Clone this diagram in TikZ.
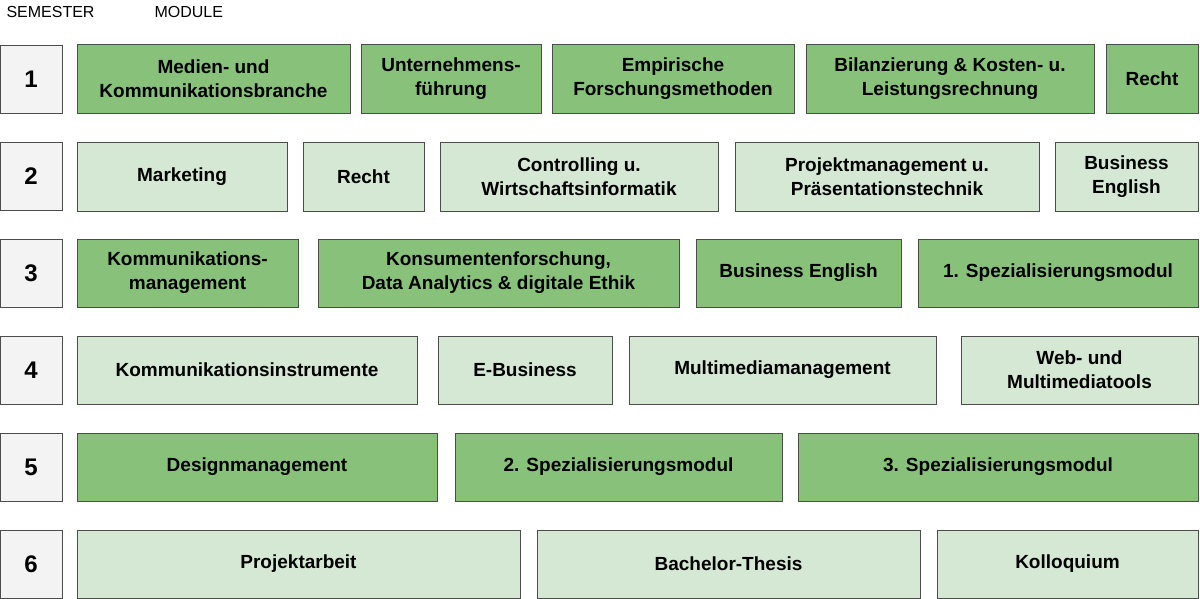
\documentclass[tikz,border=0pt]{standalone}
\usepackage{fontspec}
\setmainfont{Liberation Sans}
\definecolor{darkmod}{HTML}{88C27A}
\definecolor{lightmod}{HTML}{D5E8D4}
\definecolor{semfill}{HTML}{F3F3F3}
\tikzset{
  box/.style={draw=black!70,line width=0.8pt,align=center,inner sep=0pt,
    font=\fontsize{19}{24}\selectfont\bfseries},
  dark/.style={box,fill=darkmod},
  light/.style={box,fill=lightmod},
  sem/.style={box,fill=semfill,minimum width=62,minimum height=68,font=\fontsize{24}{28}\selectfont\bfseries},
  head/.style={anchor=west,font=\fontsize{16}{18}\selectfont}
}
\begin{document}
\begin{tikzpicture}[x=1pt,y=-1pt]
\useasboundingbox (0,0) rectangle (1200,599);
\node[head] (hs) at (3,12) {SEMESTER};
\node[head] (hm) at (151,12) {MODULE};

% semester 1
\node[sem] (s1) at (31,79) {1};
\node[dark,minimum width=273,minimum height=69] (m11) at (213.5,78.5) {Medien- und\\Kommunikationsbranche};
\node[dark,minimum width=180,minimum height=69] (m12) at (451,78.5) {Unternehmens-\\führung};
\node[dark,minimum width=242,minimum height=69] (m13) at (673,78.5) {Empirische\\Forschungsmethoden};
\node[dark,minimum width=288,minimum height=69] (m14) at (950,78.5) {Bilanzierung \& Kosten- u.\\Leistungsrechnung};
\node[dark,minimum width=92,minimum height=69] (m15) at (1152,78.5) {Recht};

% semester 2
\node[sem] (s2) at (31,176.5) {2};
\node[light,minimum width=210,minimum height=69] (m21) at (182,176.5) {Marketing};
\node[light,minimum width=121,minimum height=69] (m22) at (363.5,176.5) {Recht};
\node[light,minimum width=278,minimum height=69] (m23) at (579,176.5) {Controlling u.\\Wirtschaftsinformatik};
\node[light,minimum width=304,minimum height=69] (m24) at (887,176.5) {Projektmanagement u.\\Präsentationstechnik};
\node[light,minimum width=143,minimum height=69] (m25) at (1126.5,176.5) {Business\\English};

% semester 3
\node[sem] (s3) at (31,273) {3};
\node[dark,minimum width=221,minimum height=68] (m31) at (187.5,273) {Kommunikations-\\management};
\node[dark,minimum width=361,minimum height=68] (m32) at (498.5,273) {Konsumentenforschung,\\Data Analytics \& digitale Ethik};
\node[dark,minimum width=205,minimum height=68] (m33) at (798.5,273) {Business English};
\node[dark,minimum width=280,minimum height=68] (m34) at (1058,273) {1. Spezialisierungsmodul};

% semester 4
\node[sem] (s4) at (31,370) {4};
\node[light,minimum width=340,minimum height=68] (m41) at (247,370) {Kommunikationsinstrumente};
\node[light,minimum width=174,minimum height=68] (m42) at (525,370) {E-Business};
\node[light,minimum width=307,minimum height=68] (m43) at (782.5,370) {Multimediamanagement};
\node[light,minimum width=237,minimum height=68] (m44) at (1079.5,370) {Web- und\\Multimediatools};

% semester 5
\node[sem] (s5) at (31,467) {5};
\node[dark,minimum width=360,minimum height=68] (m51) at (257,467) {Designmanagement};
\node[dark,minimum width=327,minimum height=68] (m52) at (618.5,467) {2. Spezialisierungsmodul};
\node[dark,minimum width=400,minimum height=68] (m53) at (998,467) {3. Spezialisierungsmodul};

% semester 6
\node[sem] (s6) at (31,564) {6};
\node[light,minimum width=443,minimum height=68] (m61) at (298.5,564) {Projektarbeit};
\node[light,minimum width=383,minimum height=68] (m62) at (728.5,564) {Bachelor-Thesis};
\node[light,minimum width=261,minimum height=68] (m63) at (1067.5,564) {Kolloquium};
\end{tikzpicture}
\end{document}
